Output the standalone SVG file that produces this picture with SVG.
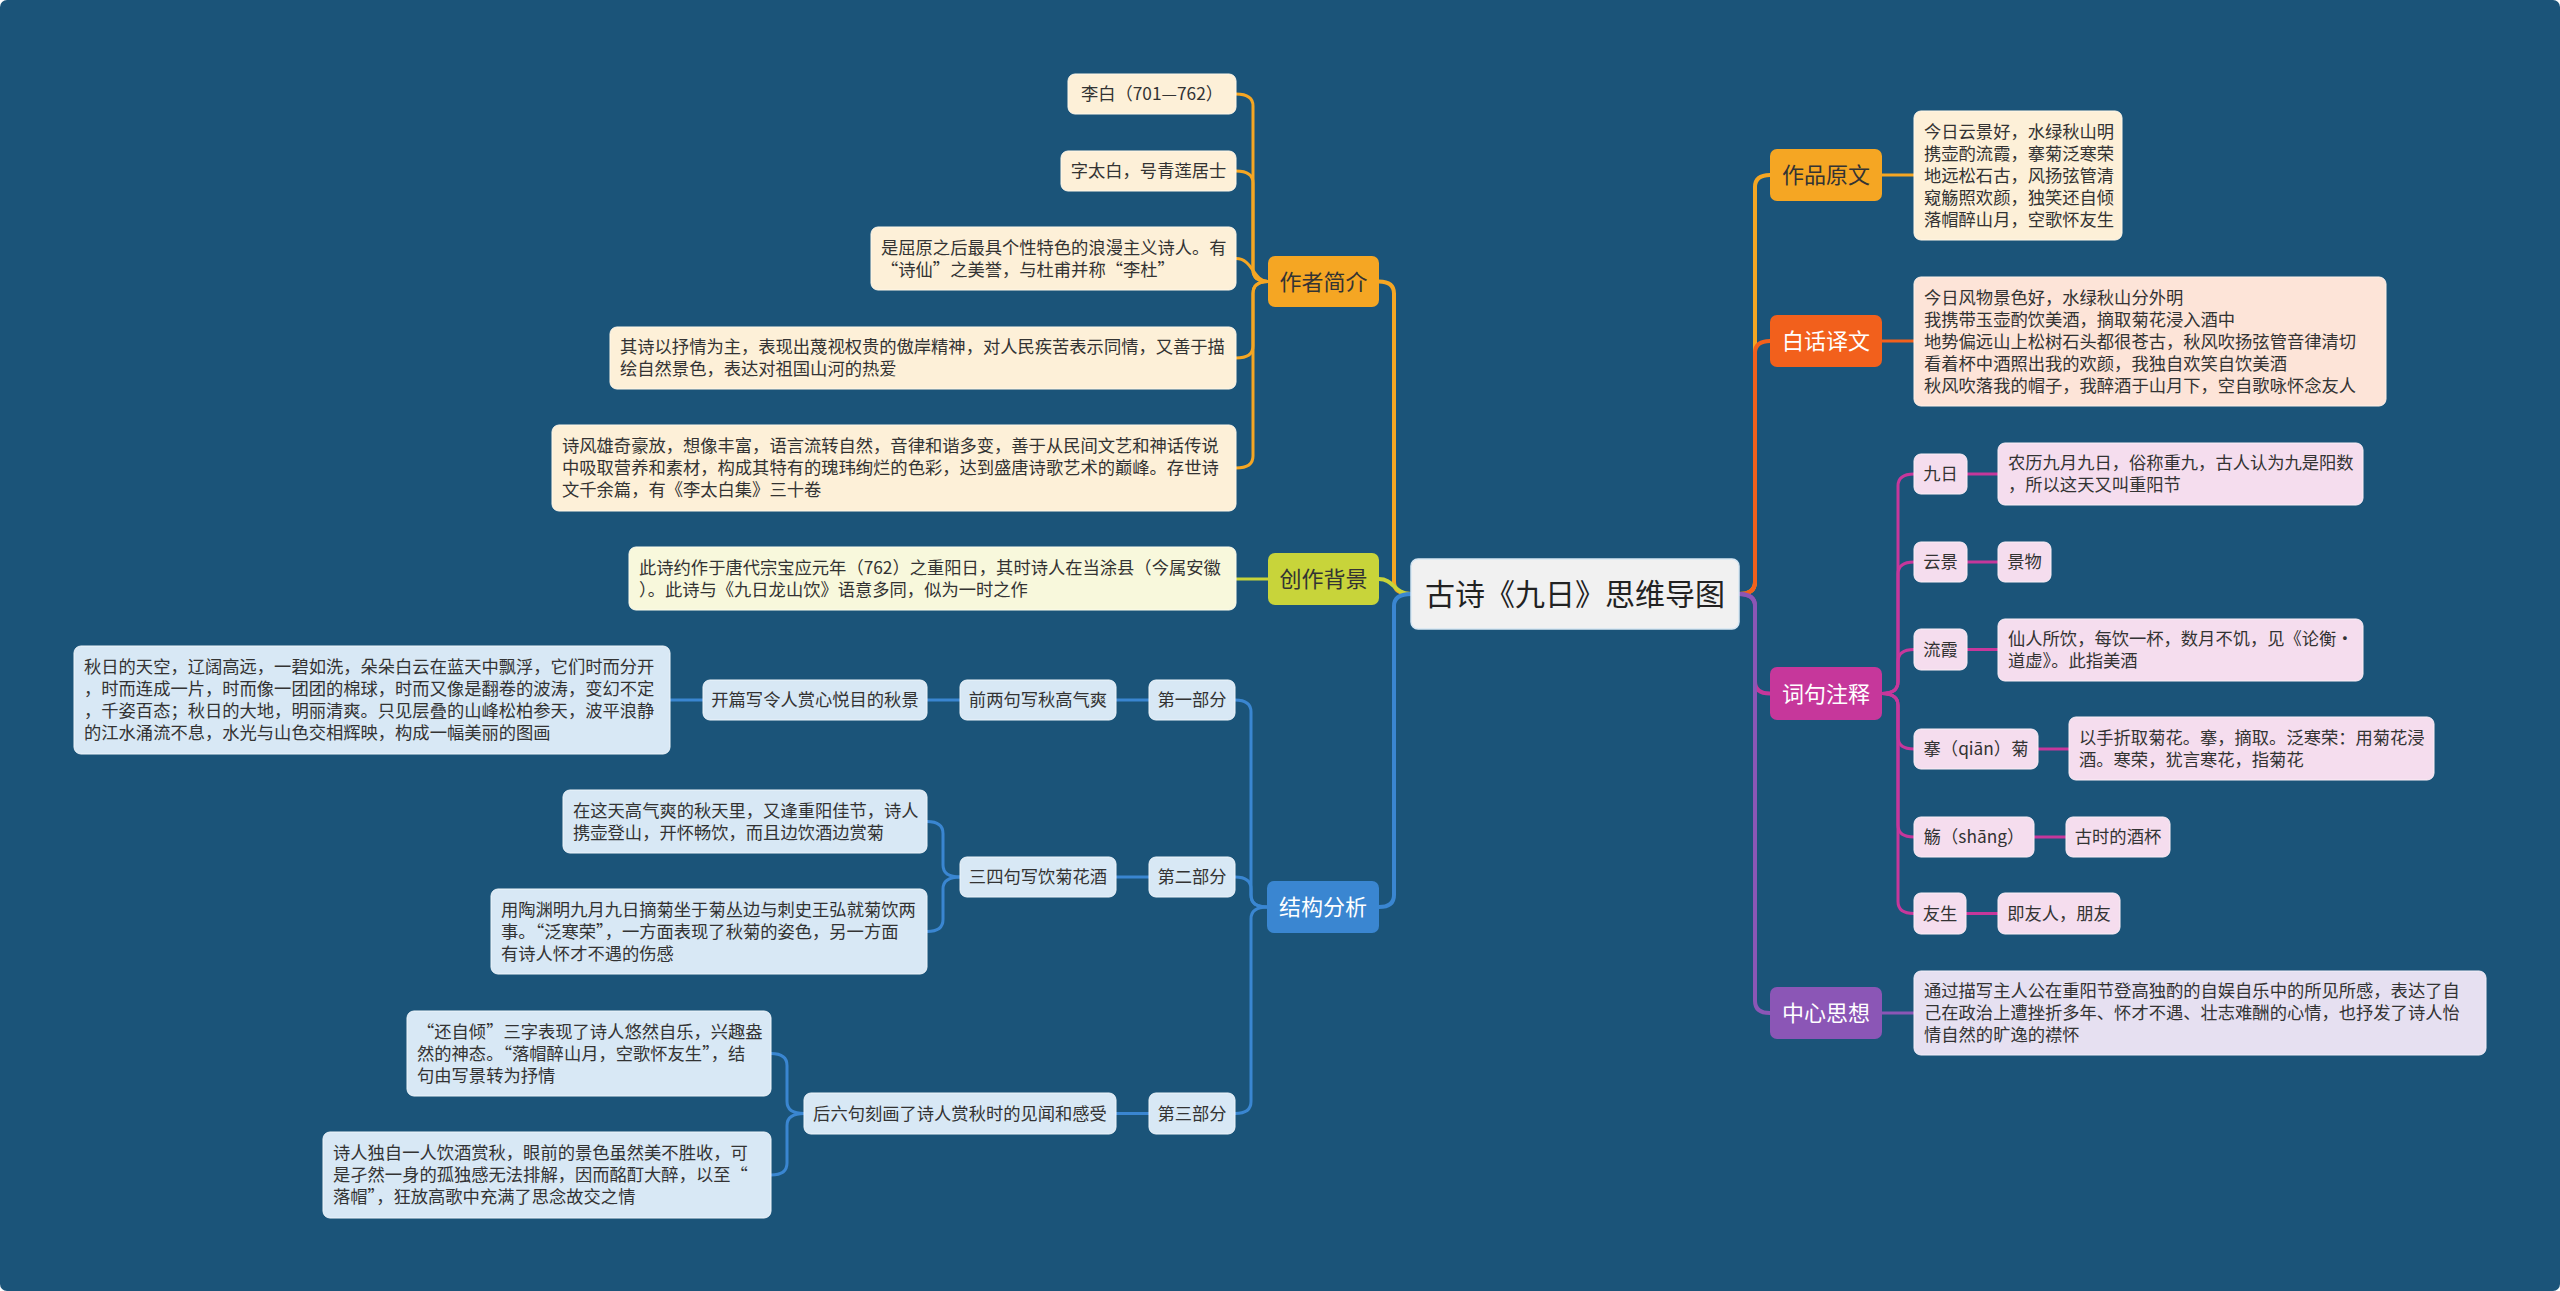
<svg xmlns="http://www.w3.org/2000/svg" width="2560" height="1291" viewBox="0 0 2560 1291">
<style>
text{font-family:"Noto Sans CJK SC","Noto Sans",sans-serif;fill:#333;}
.t{font-size:17.3px;}
.m{text-anchor:middle;}
.b{font-size:22px;text-anchor:middle;}
.w{fill:#fff;}
.root{font-size:30px;text-anchor:middle;fill:#222;}
rect{rx:7px;ry:7px;}
.c{fill:none;stroke-width:3;stroke-linecap:round;}
.cm{fill:none;stroke-width:4;stroke-linecap:round;}
.or{stroke:#f5a623;}
.gr{stroke:#c8d43a;}
.bl{stroke:#3a86d1;}
.rd{stroke:#f2601c;}
.mg{stroke:#c6379b;}
.pu{stroke:#8b56b6;}
.fOr{fill:#f5a623;}
.fGr{fill:#c8d43a;}
.fBl{fill:#3a86d1;}
.fRd{fill:#f2601c;}
.fMg{fill:#c6379b;}
.fPu{fill:#8b56b6;}
.cOr{fill:#fdf0d8;stroke:#fff8ea;stroke-width:1;}
.cGr{fill:#f8f8dc;stroke:#fdfdee;stroke-width:1;}
.cBl{fill:#d8e8f5;stroke:#eef5fb;stroke-width:1;}
.cRd{fill:#fde4d8;stroke:#fff2ea;stroke-width:1;}
.cMg{fill:#f5ddee;stroke:#fbeff7;stroke-width:1;}
.cPu{fill:#e6e0f1;stroke:#f3effa;stroke-width:1;}
</style>
<rect x="0" y="0" width="2560" height="1291" rx="0" ry="0" fill="#1b5479"/>

<g id="connectors">
  <!-- root left -->
  <path class="cm or" d="M1411,594 Q1394,594 1394,582 V293.5 Q1394,281.5 1379,281.5"/>
  <path class="cm gr" d="M1411,594 C1394,594 1394,579 1379,579"/>
  <path class="cm bl" d="M1411,594 Q1394,594 1394,606 V895 Q1394,907 1379,907"/>
  <!-- root right -->
  <path class="cm or" d="M1739,594 Q1755,594 1755,582 V187 Q1755,175 1770,175"/>
  <path class="cm rd" d="M1739,594 Q1755,594 1755,582 V353 Q1755,341 1770,341"/>
  <path class="cm mg" d="M1739,594 Q1755,594 1755,606 V681.5 Q1755,693.5 1770,693.5"/>
  <path class="cm pu" d="M1739,594 Q1755,594 1755,606 V1001 Q1755,1013 1770,1013"/>
  <!-- 作者简介 -->
  <path class="c or" d="M1268,281.5 Q1253,281.5 1253,269.5 V106 Q1253,94 1236,94"/>
  <path class="c or" d="M1268,281.5 Q1253,281.5 1253,269.5 V183 Q1253,171 1236,171"/>
  <path class="c or" d="M1268,281.5 C1253,281.5 1253,258.5 1236,258.5"/>
  <path class="c or" d="M1268,281.5 Q1253,281.5 1253,293.5 V346 Q1253,358 1236,358"/>
  <path class="c or" d="M1268,281.5 Q1253,281.5 1253,293.5 V456 Q1253,468 1236,468"/>
  <!-- 创作背景 -->
  <path class="c gr" d="M1268,579 H1236"/>
  <!-- 结构分析 -->
  <path class="c bl" d="M1267,907 Q1251,907 1251,895 V712 Q1251,700 1235,700"/>
  <path class="c bl" d="M1267,907 Q1251,907 1251,895 V889 Q1251,877 1235,877"/>
  <path class="c bl" d="M1267,907 Q1251,907 1251,919 V1101.5 Q1251,1113.5 1235,1113.5"/>
  <path class="c bl" d="M1149,700 H1116 M960,700 H927 M703,700 H670"/>
  <path class="c bl" d="M1149,877 H1116"/>
  <path class="c bl" d="M960,877 Q943,877 943,865 V833.5 Q943,821.5 927,821.5"/>
  <path class="c bl" d="M960,877 Q943,877 943,889 V919.5 Q943,931.5 927,931.5"/>
  <path class="c bl" d="M1149,1113.5 H1116"/>
  <path class="c bl" d="M804,1113.5 Q787,1113.5 787,1101.5 V1065.5 Q787,1053.5 771,1053.5"/>
  <path class="c bl" d="M804,1113.5 Q787,1113.5 787,1125.5 V1163 Q787,1175 771,1175"/>
  <!-- right straight -->
  <path class="c or" d="M1882,175 H1914"/>
  <path class="c rd" d="M1882,341 H1914"/>
  <path class="c pu" d="M1882,1013 H1914"/>
  <!-- 词句注释 -->
  <path class="c mg" d="M1882,693.5 Q1898,693.5 1898,681.5 V486 Q1898,474 1914,474"/>
  <path class="c mg" d="M1882,693.5 Q1898,693.5 1898,681.5 V574 Q1898,562 1914,562"/>
  <path class="c mg" d="M1882,693.5 Q1898,693.5 1898,681.5 V661.5 Q1898,649.5 1914,649.5"/>
  <path class="c mg" d="M1882,693.5 Q1898,693.5 1898,705.5 V737 Q1898,749 1914,749"/>
  <path class="c mg" d="M1882,693.5 Q1898,693.5 1898,705.5 V825 Q1898,837 1914,837"/>
  <path class="c mg" d="M1882,693.5 Q1898,693.5 1898,705.5 V901.5 Q1898,913.5 1914,913.5"/>
  <path class="c mg" d="M1967,474 H1998 M1967,562 H1998 M1967,649.5 H1998 M2038,749 H2069 M2034,837 H2066 M1966,913.5 H1998"/>
</g>

<g id="root">
  <rect x="1411" y="559" width="328" height="70" fill="#f1f1f1" stroke="#d6e6f2" stroke-width="1.5"/>
  <text class="root" x="1575" y="605">古诗《九日》思维导图</text>
</g>

<!-- 作者简介 -->
<g id="zuozhe">
  <rect class="fOr" x="1268" y="256" width="111" height="51"/>
  <text class="b" x="1323.5" y="289.5">作者简介</text>
</g>
<g id="zuozhe-1">
  <rect class="cOr" x="1068" y="74" width="168" height="40"/>
  <text class="t m" x="1152" y="100">李白（701—762）</text>
</g>
<g id="zuozhe-2">
  <rect class="cOr" x="1061" y="151" width="175" height="40"/>
  <text class="t m" x="1148.5" y="177">字太白，号青莲居士</text>
</g>
<g id="zuozhe-3">
  <rect class="cOr" x="871" y="227" width="365" height="63"/>
  <text class="t"><tspan x="881" y="253.5">是屈原之后最具个性特色的浪漫主义诗人。有</tspan><tspan x="881" y="275.5">“诗仙”之美誉，与杜甫并称“李杜”</tspan></text>
</g>
<g id="zuozhe-4">
  <rect class="cOr" x="610" y="327" width="626" height="62"/>
  <text class="t"><tspan x="620" y="353">其诗以抒情为主，表现出蔑视权贵的傲岸精神，对人民疾苦表示同情，又善于描</tspan><tspan x="620" y="375">绘自然景色，表达对祖国山河的热爱</tspan></text>
</g>
<g id="zuozhe-5">
  <rect class="cOr" x="552" y="425" width="684" height="86"/>
  <text class="t"><tspan x="562" y="452">诗风雄奇豪放，想像丰富，语言流转自然，音律和谐多变，善于从民间文艺和神话传说</tspan><tspan x="562" y="474">中吸取营养和素材，构成其特有的瑰玮绚烂的色彩，达到盛唐诗歌艺术的巅峰。存世诗</tspan><tspan x="562" y="496">文千余篇，有《李太白集》三十卷</tspan></text>
</g>

<!-- 创作背景 -->
<g id="beijing">
  <rect class="fGr" x="1268" y="553" width="111" height="52"/>
  <text class="b" x="1323.5" y="587">创作背景</text>
</g>
<g id="beijing-1">
  <rect class="cGr" x="629" y="547" width="607" height="63"/>
  <text class="t"><tspan x="639" y="573.5">此诗约作于唐代宗宝应元年（762）之重阳日，其时诗人在当涂县（今属安徽</tspan><tspan x="639" y="595.5">）。此诗与《九日龙山饮》语意多同，似为一时之作</tspan></text>
</g>

<!-- 结构分析 -->
<g id="jiegou">
  <rect class="fBl" x="1267" y="881" width="112" height="52"/>
  <text class="b w" x="1323" y="915">结构分析</text>
</g>
<g id="part1">
  <rect class="cBl" x="1149" y="680" width="86" height="40"/>
  <text class="t m" x="1192" y="706">第一部分</text>
</g>
<g id="part1-a">
  <rect class="cBl" x="960" y="680" width="156" height="40"/>
  <text class="t m" x="1038" y="706">前两句写秋高气爽</text>
</g>
<g id="part1-b">
  <rect class="cBl" x="703" y="680" width="224" height="40"/>
  <text class="t m" x="815" y="706">开篇写令人赏心悦目的秋景</text>
</g>
<g id="part1-c">
  <rect class="cBl" x="74" y="646" width="596" height="108"/>
  <text class="t"><tspan x="84" y="673">秋日的天空，辽阔高远，一碧如洗，朵朵白云在蓝天中飘浮，它们时而分开</tspan><tspan x="84" y="695">，时而连成一片，时而像一团团的棉球，时而又像是翻卷的波涛，变幻不定</tspan><tspan x="84" y="717">，千姿百态；秋日的大地，明丽清爽。只见层叠的山峰松柏参天，波平浪静</tspan><tspan x="84" y="739">的江水涌流不息，水光与山色交相辉映，构成一幅美丽的图画</tspan></text>
</g>
<g id="part2">
  <rect class="cBl" x="1149" y="857" width="86" height="40"/>
  <text class="t m" x="1192" y="883">第二部分</text>
</g>
<g id="part2-a">
  <rect class="cBl" x="960" y="857" width="156" height="40"/>
  <text class="t m" x="1038" y="883">三四句写饮菊花酒</text>
</g>
<g id="part2-b">
  <rect class="cBl" x="563" y="790" width="364" height="63"/>
  <text class="t"><tspan x="573" y="816.5">在这天高气爽的秋天里，又逢重阳佳节，诗人</tspan><tspan x="573" y="838.5">携壶登山，开怀畅饮，而且边饮酒边赏菊</tspan></text>
</g>
<g id="part2-c">
  <rect class="cBl" x="491" y="889" width="436" height="85"/>
  <text class="t"><tspan x="501" y="915.5">用陶渊明九月九日摘菊坐于菊丛边与刺史王弘就菊饮两</tspan><tspan x="501" y="937.5">事。“泛寒荣”，一方面表现了秋菊的姿色，另一方面</tspan><tspan x="501" y="959.5">有诗人怀才不遇的伤感</tspan></text>
</g>
<g id="part3">
  <rect class="cBl" x="1149" y="1093" width="86" height="41"/>
  <text class="t m" x="1192" y="1119.5">第三部分</text>
</g>
<g id="part3-a">
  <rect class="cBl" x="804" y="1093" width="312" height="41"/>
  <text class="t m" x="960" y="1119.5">后六句刻画了诗人赏秋时的见闻和感受</text>
</g>
<g id="part3-b">
  <rect class="cBl" x="407" y="1011" width="364" height="85"/>
  <text class="t"><tspan x="417" y="1037.5">“还自倾”三字表现了诗人悠然自乐，兴趣盎</tspan><tspan x="417" y="1059.5">然的神态。“落帽醉山月，空歌怀友生”，结</tspan><tspan x="417" y="1081.5">句由写景转为抒情</tspan></text>
</g>
<g id="part3-c">
  <rect class="cBl" x="323" y="1132" width="448" height="86"/>
  <text class="t"><tspan x="333" y="1159">诗人独自一人饮酒赏秋，眼前的景色虽然美不胜收，可</tspan><tspan x="333" y="1181">是孑然一身的孤独感无法排解，因而酩酊大醉，以至“</tspan><tspan x="333" y="1203">落帽”，狂放高歌中充满了思念故交之情</tspan></text>
</g>

<!-- 作品原文 -->
<g id="yuanwen">
  <rect class="fOr" x="1770" y="149" width="112" height="52"/>
  <text class="b" x="1826" y="183">作品原文</text>
</g>
<g id="yuanwen-1">
  <rect class="cOr" x="1914" y="111" width="208" height="129"/>
  <text class="t"><tspan x="1924" y="137.5">今日云景好，水绿秋山明</tspan><tspan x="1924" y="159.5">携壶酌流霞，搴菊泛寒荣</tspan><tspan x="1924" y="181.5">地远松石古，风扬弦管清</tspan><tspan x="1924" y="203.5">窥觞照欢颜，独笑还自倾</tspan><tspan x="1924" y="225.5">落帽醉山月，空歌怀友生</tspan></text>
</g>

<!-- 白话译文 -->
<g id="yiwen">
  <rect class="fRd" x="1770" y="315" width="112" height="52"/>
  <text class="b w" x="1826" y="349">白话译文</text>
</g>
<g id="yiwen-1">
  <rect class="cRd" x="1914" y="277" width="472" height="129"/>
  <text class="t"><tspan x="1924" y="303.5">今日风物景色好，水绿秋山分外明</tspan><tspan x="1924" y="325.5">我携带玉壶酌饮美酒，摘取菊花浸入酒中</tspan><tspan x="1924" y="347.5">地势偏远山上松树石头都很苍古，秋风吹扬弦管音律清切</tspan><tspan x="1924" y="369.5">看着杯中酒照出我的欢颜，我独自欢笑自饮美酒</tspan><tspan x="1924" y="391.5">秋风吹落我的帽子，我醉酒于山月下，空自歌咏怀念友人</tspan></text>
</g>

<!-- 词句注释 -->
<g id="zhushi">
  <rect class="fMg" x="1770" y="667" width="112" height="53"/>
  <text class="b w" x="1826" y="701.5">词句注释</text>
</g>
<g id="zs-1">
  <rect class="cMg" x="1914" y="454" width="53" height="40"/>
  <text class="t m" x="1940.5" y="480">九日</text>
</g>
<g id="zs-1a">
  <rect class="cMg" x="1998" y="443" width="365" height="62"/>
  <text class="t"><tspan x="2008" y="469">农历九月九日，俗称重九，古人认为九是阳数</tspan><tspan x="2008" y="491">，所以这天又叫重阳节</tspan></text>
</g>
<g id="zs-2">
  <rect class="cMg" x="1914" y="542" width="53" height="40"/>
  <text class="t m" x="1940.5" y="568">云景</text>
</g>
<g id="zs-2a">
  <rect class="cMg" x="1998" y="542" width="53" height="40"/>
  <text class="t m" x="2024.5" y="568">景物</text>
</g>
<g id="zs-3">
  <rect class="cMg" x="1914" y="629" width="53" height="41"/>
  <text class="t m" x="1940.5" y="655.5">流霞</text>
</g>
<g id="zs-3a">
  <rect class="cMg" x="1998" y="619" width="365" height="62"/>
  <text class="t"><tspan x="2008" y="645">仙人所饮，每饮一杯，数月不饥，见《论衡·</tspan><tspan x="2008" y="667">道虚》。此指美酒</tspan></text>
</g>
<g id="zs-4">
  <rect class="cMg" x="1914" y="729" width="124" height="40"/>
  <text class="t m" x="1976" y="755">搴（qiān）菊</text>
</g>
<g id="zs-4a">
  <rect class="cMg" x="2069" y="717" width="365" height="63"/>
  <text class="t"><tspan x="2079" y="743.5">以手折取菊花。搴，摘取。泛寒荣：用菊花浸</tspan><tspan x="2079" y="765.5">酒。寒荣，犹言寒花，指菊花</tspan></text>
</g>
<g id="zs-5">
  <rect class="cMg" x="1914" y="817" width="120" height="40"/>
  <text class="t m" x="1974" y="843">觞（shāng）</text>
</g>
<g id="zs-5a">
  <rect class="cMg" x="2066" y="817" width="104" height="40"/>
  <text class="t m" x="2118" y="843">古时的酒杯</text>
</g>
<g id="zs-6">
  <rect class="cMg" x="1914" y="893" width="52" height="41"/>
  <text class="t m" x="1940" y="919.5">友生</text>
</g>
<g id="zs-6a">
  <rect class="cMg" x="1998" y="893" width="122" height="41"/>
  <text class="t m" x="2059" y="919.5">即友人，朋友</text>
</g>

<!-- 中心思想 -->
<g id="sixiang">
  <rect class="fPu" x="1770" y="987" width="112" height="52"/>
  <text class="b w" x="1826" y="1021">中心思想</text>
</g>
<g id="sixiang-1">
  <rect class="cPu" x="1914" y="971" width="572" height="84"/>
  <text class="t"><tspan x="1924" y="997">通过描写主人公在重阳节登高独酌的自娱自乐中的所见所感，表达了自</tspan><tspan x="1924" y="1019">己在政治上遭挫折多年、怀才不遇、壮志难酬的心情，也抒发了诗人怡</tspan><tspan x="1924" y="1041">情自然的旷逸的襟怀</tspan></text>
</g>
</svg>
